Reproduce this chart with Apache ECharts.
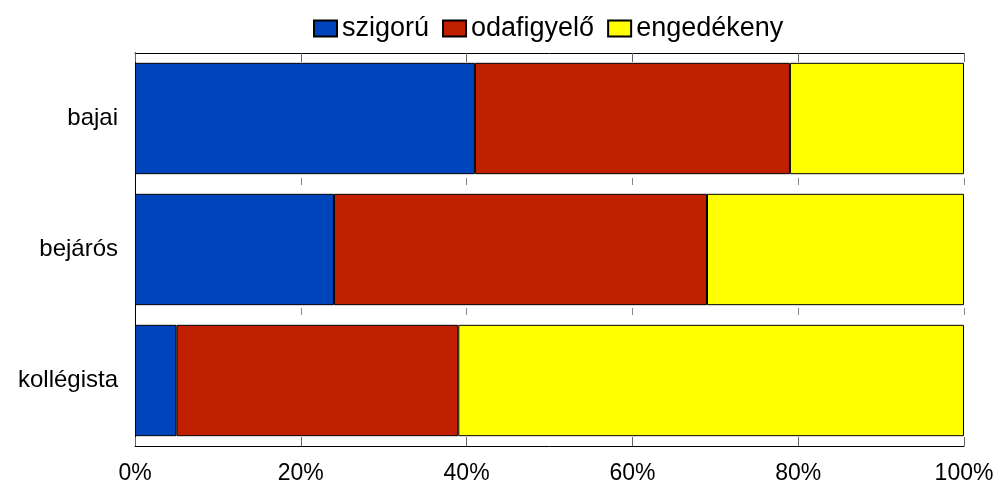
<!DOCTYPE html>
<html>
<head>
<meta charset="utf-8">
<script src="https://cdn.jsdelivr.net/npm/echarts@6/dist/echarts.min.js"></script>
<style>
html, body { margin: 0; padding: 0; background: #ffffff; }
#chart { width: 998px; height: 485px; }
</style>
</head>
<body>
<div id="chart"></div>
<script>
var categories = ['bajai', 'bejárós', 'kollégista'];
var seriesNames = ['szigorú', 'odafigyelő', 'engedékeny'];
var szigoru = [41, 24, 5];
var odafigyelo = [38, 45, 34];
var engedekeny = [21, 31, 61];
var colors = ['#0044bb', '#c02000', '#ffff00'];

var font = 'Liberation Sans, Arial, sans-serif';
var values = [szigoru, odafigyelo, engedekeny];

var myChart = echarts.init(document.getElementById('chart'));
var option = {
    animation: false,
    textStyle: { fontFamily: font },
    legend: {
        top: 10,
        left: 308,
        icon: 'rect',
        itemGap: 13,
        itemWidth: 23,
        itemHeight: 16,
        textStyle: { fontSize: 27, color: '#000', fontFamily: font },
        data: seriesNames
    },
    grid: { left: 135, right: 34, top: 53, bottom: 37 },
    xAxis: [{
        type: 'value',
        min: 0,
        max: 100,
        interval: 20,
        position: 'bottom',
        axisLine: { show: true, lineStyle: { color: '#000', width: 1 } },
        axisTick: { show: true, inside: true, length: 9, lineStyle: { color: '#666' } },
        axisLabel: { formatter: '{value}%', fontSize: 23, color: '#000', margin: 16, fontFamily: font },
        splitLine: { show: true, lineStyle: { color: '#888', type: [7, 123], dashOffset: 5 } }
    }, {
        type: 'value',
        min: 0,
        max: 100,
        interval: 20,
        position: 'top',
        axisLine: { show: true, lineStyle: { color: '#000', width: 1 } },
        axisTick: { show: true, inside: true, length: 9, lineStyle: { color: '#666' } },
        axisLabel: { show: false },
        splitLine: { show: false }
    }],
    yAxis: [{
        type: 'category',
        inverse: true,
        data: categories,
        axisLine: { show: true, lineStyle: { color: '#000' } },
        axisTick: { show: false },
        axisLabel: { fontSize: 24, color: '#000', margin: 17, fontFamily: font }
    }, {
        type: 'category',
        inverse: true,
        position: 'right',
        data: categories,
        axisLine: { show: true, lineStyle: { color: '#000' } },
        axisTick: { show: false },
        axisLabel: { show: false }
    }],
    series: seriesNames.map(function (name, i) {
        return {
            name: name,
            type: 'bar',
            stack: 'total',
            barCategoryGap: '15%',
            data: values[i],
            itemStyle: { color: colors[i], borderColor: '#000', borderWidth: 1 }
        };
    })
};
myChart.setOption(option);
</script>
</body>
</html>
